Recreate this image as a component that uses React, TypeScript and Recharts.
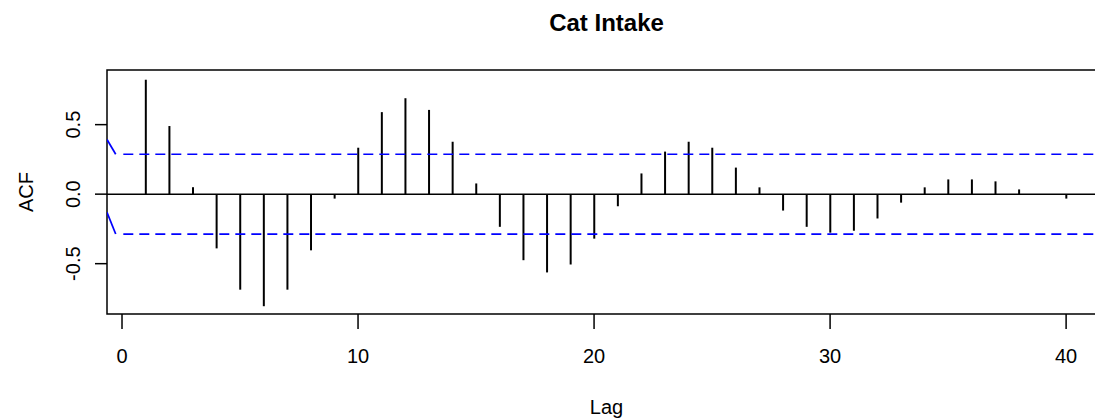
import React from 'react';
import {
  ComposedChart,
  Bar,
  Line,
  XAxis,
  YAxis,
  ReferenceArea,
  ReferenceLine,
  Label,
} from 'recharts';

const FONT = '"Liberation Sans", Arial, Helvetica, sans-serif';

const chartTitle = 'Cat Intake';
const xLabel = 'Lag';
const yLabel = 'ACF';

const lags = [
  1, 2, 3, 4, 5, 6, 7, 8, 9, 10,
  11, 12, 13, 14, 15, 16, 17, 18, 19, 20,
  21, 22, 23, 24, 25, 26, 27, 28, 29, 30,
  31, 32, 33, 34, 35, 36, 37, 38, 39, 40,
];
const acfValues = [
  0.823, 0.49, 0.05, -0.39, -0.687, -0.806, -0.687, -0.404, -0.032, 0.334,
  0.59, 0.69, 0.606, 0.377, 0.077, -0.235, -0.475, -0.563, -0.506, -0.32,
  -0.087, 0.149, 0.306, 0.377, 0.334, 0.191, 0.049, -0.118, -0.235, -0.277,
  -0.263, -0.175, -0.061, 0.049, 0.106, 0.106, 0.092, 0.034, 0.0, -0.032,
];

const xTicks = [0, 10, 20, 30, 40];
const yTicks = [-0.5, 0, 0.5];
const xDomain: [number, number] = [-0.636, 41.69];
const yDomain: [number, number] = [-0.862, 0.893];

const ciLevel = 0.287;
// dashed confidence bounds
const ciUpperDashed = [
  { lag: 0.055, v: ciLevel },
  { lag: 41.69, v: ciLevel },
];
const ciLowerDashed = [
  { lag: 0.055, v: -ciLevel },
  { lag: 41.69, v: -ciLevel },
];
// short solid lead-in segments at the left edge
const ciUpperLead = [
  { lag: -0.636, v: 0.393 },
  { lag: -0.267, v: ciLevel },
];
const ciLowerLead = [
  { lag: -0.636, v: -0.131 },
  { lag: -0.267, v: -ciLevel },
];

const data = lags.map((lag, i) => ({ lag, acf: acfValues[i] }));

const YTick = (props: any) => {
  const { x, y, payload } = props;
  return (
    <text
      x={x}
      y={y}
      transform={`rotate(-90 ${x} ${y})`}
      textAnchor="middle"
      fontSize={20}
      fontFamily={FONT}
      fill="#000"
    >
      {Number(payload.value).toFixed(1)}
    </text>
  );
};

export default function App() {
  return (
    <div
      style={{
        position: 'fixed',
        left: 0,
        top: 0,
        width: 1095,
        height: 420,
        overflow: 'hidden',
        background: '#fff',
      }}
    >
      <ComposedChart
        width={1120}
        height={420}
        data={data}
        margin={{ top: 70, right: 14, bottom: 0, left: 0 }}
      >
        <XAxis
          dataKey="lag"
          type="number"
          domain={xDomain}
          allowDataOverflow
          ticks={xTicks}
          interval={0}
          height={106}
          axisLine={false}
          tickSize={15}
          tickMargin={19.5}
          tickLine={{ stroke: '#000', strokeWidth: 1.5 }}
          tick={{ fontSize: 20, fill: '#000', fontFamily: FONT }}
        >
          <Label
            value={xLabel}
            position="insideBottom"
            offset={6}
            style={{ fontSize: 20, fill: '#000', fontFamily: FONT }}
          />
        </XAxis>
        <YAxis
          type="number"
          domain={yDomain}
          allowDataOverflow
          ticks={yTicks}
          interval={0}
          width={107}
          axisLine={false}
          tickSize={12}
          tickMargin={15}
          tickLine={{ stroke: '#000', strokeWidth: 1.5 }}
          tick={<YTick />}
        >
          <Label
            content={(p: any) => {
              const vb = p.viewBox || { x: 0, y: 70, width: 107, height: 244 };
              const cx = vb.x + 33;
              const cy = vb.y + vb.height / 2;
              return (
                <text
                  x={cx}
                  y={cy}
                  transform={`rotate(-90 ${cx} ${cy})`}
                  textAnchor="middle"
                  fontSize={20}
                  fontFamily={FONT}
                  fill="#000"
                >
                  {yLabel}
                </text>
              );
            }}
          />
        </YAxis>
        <ReferenceArea
          x1={xDomain[0]}
          x2={xDomain[1]}
          y1={yDomain[0]}
          y2={yDomain[1]}
          fill="none"
          fillOpacity={0}
          stroke="#000"
          strokeWidth={1.5}
          ifOverflow="visible"
          label={(p: any) => {
            const vb = p.viewBox || { x: 107, y: 70, width: 999, height: 244 };
            return (
              <text
                x={vb.x + vb.width / 2}
                y={vb.y - 39}
                textAnchor="middle"
                fontSize={24}
                fontWeight="bold"
                fontFamily={FONT}
                fill="#000"
              >
                {chartTitle}
              </text>
            );
          }}
        />
        <ReferenceLine y={0} stroke="#000" strokeWidth={1.5} ifOverflow="visible" />
        <Line
          data={ciUpperDashed}
          dataKey="v"
          stroke="#0000ff"
          strokeWidth={1.7}
          strokeDasharray="10 6"
          dot={false}
          activeDot={false}
          isAnimationActive={false}
        />
        <Line
          data={ciLowerDashed}
          dataKey="v"
          stroke="#0000ff"
          strokeWidth={1.7}
          strokeDasharray="10 6"
          dot={false}
          activeDot={false}
          isAnimationActive={false}
        />
        <Line
          data={ciUpperLead}
          dataKey="v"
          stroke="#0000ff"
          strokeWidth={1.7}
          dot={false}
          activeDot={false}
          isAnimationActive={false}
        />
        <Line
          data={ciLowerLead}
          dataKey="v"
          stroke="#0000ff"
          strokeWidth={1.7}
          dot={false}
          activeDot={false}
          isAnimationActive={false}
        />
        <Bar dataKey="acf" fill="#000" barSize={2} isAnimationActive={false} />
      </ComposedChart>
    </div>
  );
}
